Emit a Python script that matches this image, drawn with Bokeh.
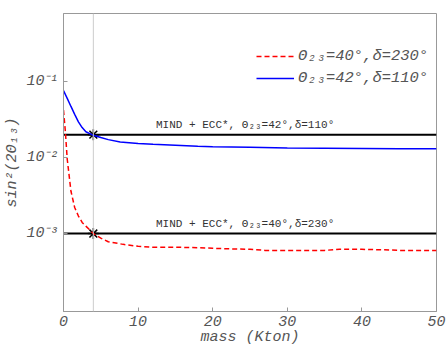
from bokeh.plotting import figure
from bokeh.models import Range1d, FixedTicker, CustomJSTickFormatter, Span, Legend, LegendItem
from bokeh.embed import file_html
from bokeh.resources import INLINE
from bokeh.core.properties import value

# data
mass_red = [0, 0.25, 0.5, 1, 1.5, 2, 2.5, 3, 4, 5, 6, 8, 10, 12, 15, 18, 20, 22, 25, 27, 30, 35, 37, 40, 43, 45, 50]
s_red = [0.042, 0.022, 0.0095, 0.0036, 0.0022, 0.0017, 0.0014, 0.00125, 0.001, 0.00087, 0.00078, 0.00072,
         0.00068, 0.00066, 0.00066, 0.00065, 0.00064, 0.00063, 0.00062, 0.0006, 0.0006, 0.0006, 0.00062,
         0.00062, 0.00061, 0.0006, 0.0006]
mass_blue = [0, 0.5, 1, 1.5, 2, 2.5, 3, 4, 5, 6, 7.6, 10, 12, 15, 18, 20, 25, 30, 35, 40, 45, 50]
s_blue = [0.076, 0.06, 0.047, 0.037, 0.0295, 0.0248, 0.0218, 0.0196, 0.0183, 0.0172, 0.016, 0.0153, 0.0149,
          0.0145, 0.0141, 0.0139, 0.0136, 0.0133, 0.0132, 0.0131, 0.013, 0.013]
levels = [0.02, 0.001]
level_labels = ["MIND + ECC*, \u0398\u2082\u2083=42\u00b0,\u03b4=110\u00b0",
                "MIND + ECC*, \u0398\u2082\u2083=40\u00b0,\u03b4=230\u00b0"]
legend_labels = ["\u0398\u2082\u2083=40\u00b0,\u03b4=230\u00b0", "\u0398\u2082\u2083=42\u00b0,\u03b4=110\u00b0"]
mass_ref = 4
x_range = (0, 50)
y_range = (10 ** -4.026, 10 ** -0.105)
y_ticks = [1e-3, 1e-2, 1e-1]
x_ticks = [0, 10, 20, 30, 40, 50]

mono = "Liberation Mono"
grey = "#555555"

p = figure(width=447, height=358, output_backend="svg", toolbar_location=None,
           y_axis_type="log", x_range=Range1d(*x_range), y_range=Range1d(*y_range),
           min_border_left=63, min_border_right=11, min_border_top=13, min_border_bottom=47)
p.outline_line_color = "#999999"
p.grid.visible = False
p.background_fill_color = "white"

for ax in (p.xaxis[0], p.yaxis[0]):
    ax.axis_line_color = "#999999"
    ax.major_tick_line_color = "#999999"
    ax.major_tick_in = 4
    ax.major_tick_out = 0
    ax.minor_tick_line_color = None
    ax.major_label_text_font = mono
    ax.major_label_text_font_style = "italic"
    ax.major_label_text_font_size = "15px"
    ax.major_label_text_color = grey
    ax.axis_label_text_font = mono
    ax.axis_label_text_font_style = "italic"
    ax.axis_label_text_font_size = "15px"
    ax.axis_label_text_color = grey

p.xaxis.ticker = FixedTicker(ticks=x_ticks)
p.yaxis.ticker = FixedTicker(ticks=y_ticks)
p.yaxis.formatter = CustomJSTickFormatter(code="""
const e = Math.round(Math.log10(tick));
const sup = {'-':'\u207b','0':'\u2070','1':'\u00b9','2':'\u00b2','3':'\u00b3','4':'\u2074'};
return '10' + String(e).split('').map(c => sup[c]).join('');
""")
p.xaxis.axis_label = "mass (Kton)"
p.yaxis.axis_label = "sin\u00b2(2\u0398\u2081\u2083)"
p.xaxis.major_label_standoff = 4
p.yaxis.major_label_standoff = 5
p.xaxis.axis_label_standoff = 0
p.yaxis.axis_label_standoff = 2

p.add_layout(Span(location=mass_ref, dimension="height", line_color="#cccccc", line_width=1))

for lev, lab in zip(levels, level_labels):
    p.line(list(x_range), [lev, lev], line_color="black", line_width=2)
    p.text(x=[12.4], y=[lev], text=[lab], text_font=value(mono), text_font_size="11px",
           text_color="#333333", text_baseline="bottom", y_offset=-4)

p.scatter([mass_ref] * len(levels), levels, marker="asterisk", size=11, line_color="black", line_width=1.5)

r_red = p.line(mass_red, s_red, line_color="red", line_width=1.5, line_dash="5 3")
r_blue = p.line(mass_blue, s_blue, line_color="blue", line_width=1.5)

legend = Legend(items=[LegendItem(label=legend_labels[0], renderers=[r_red]),
                       LegendItem(label=legend_labels[1], renderers=[r_blue])],
                location=(193, 223), border_line_color=None, background_fill_alpha=0,
                label_text_font=mono, label_text_font_style="italic", label_text_font_size="15.5px",
                label_text_color=grey, glyph_width=38, label_standoff=4, spacing=2,
                label_height=20, glyph_height=20, padding=10, margin=0)
p.add_layout(legend, "center")

open("out.html", "w").write(file_html(p, INLINE))
